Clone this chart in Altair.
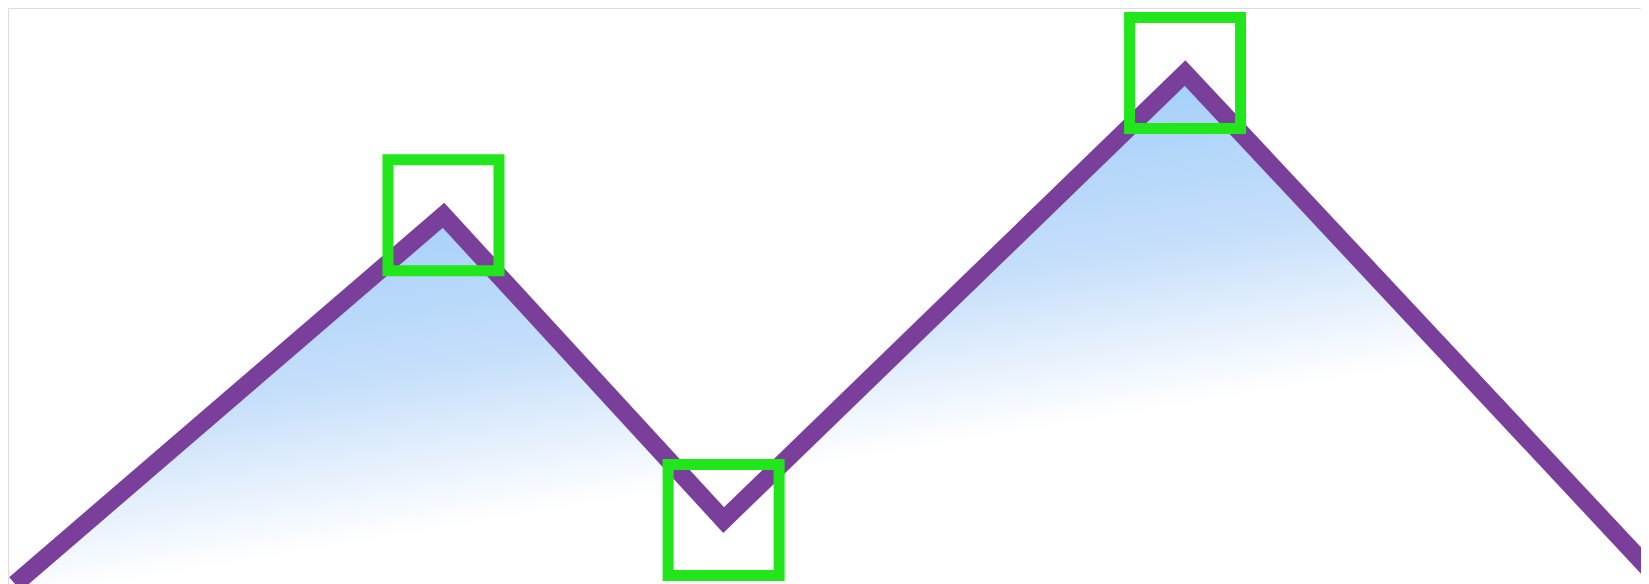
import altair as alt
import pandas as pd

# data
xs = [0, 26, 43, 71, 100]
ys = [0, 64.0, 11.1, 88.7, 0]
marker = [False, True, True, True, False]

df = pd.DataFrame({"x": xs, "y": ys, "marker": marker})

xscale = alt.Scale(domain=[-0.425, 98.665], nice=False, zero=False)
yscale = alt.Scale(domain=[0, 100], nice=False)

X = alt.X("x:Q", scale=xscale, axis=None)
Y = alt.Y("y:Q", scale=yscale, axis=None)

gradient = alt.Gradient(
    gradient="linear",
    x1=0.167, y1=0.311, x2=0.43, y2=0.80,
    stops=[
        alt.GradientStop(color="#a6d0fa", offset=0),
        alt.GradientStop(color="#c6dffa", offset=0.5),
        alt.GradientStop(color="#ffffff", offset=1),
    ],
)

base = alt.Chart(df)

area = base.mark_area(color=gradient, opacity=1, clip=False).encode(x=X, y=Y, y2=alt.datum(0))
line = base.mark_line(color="#7a3f9b", strokeWidth=18, strokeJoin="miter", clip=False).encode(x=X, y=Y)
points = base.transform_filter("datum.marker").mark_point(
    shape="square", size=12321, filled=False, stroke="#22e61c", strokeWidth=11, opacity=1
).encode(x=X, y=Y)

chart = (
    alt.layer(area, line, points)
    .properties(width=1633, height=576, padding=0, autosize=alt.AutoSizeParams(type="none"))
    .configure_view(strokeWidth=0, stroke="transparent")
    .configure(background="white")
)

chart.save("out.html", embed_options={"renderer": "svg", "actions": False})
